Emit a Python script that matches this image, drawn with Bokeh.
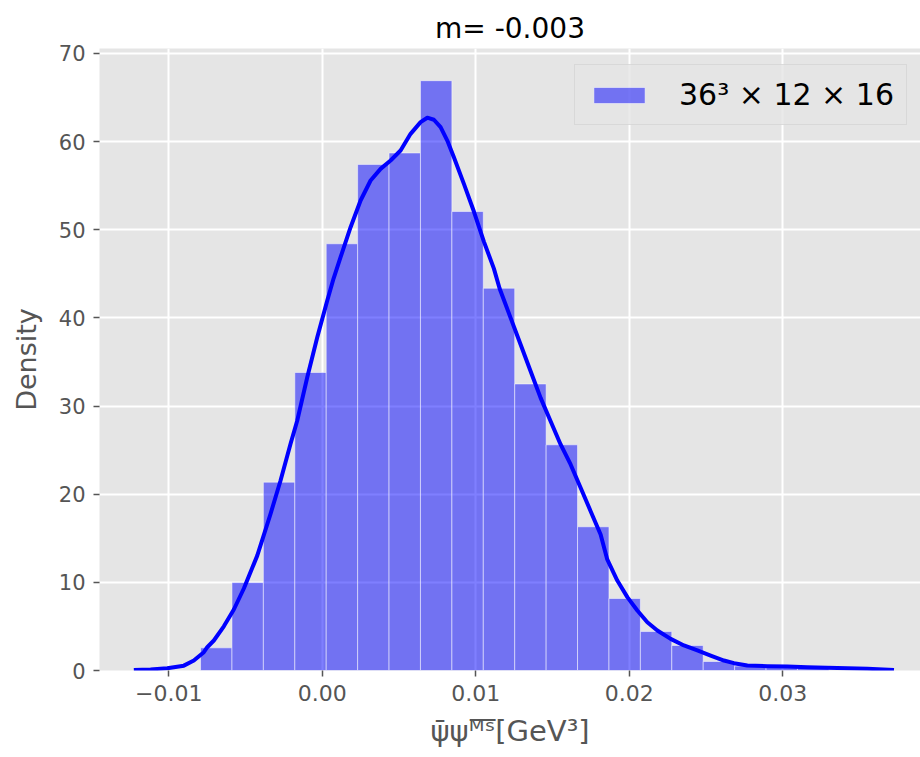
from bokeh.plotting import figure
from bokeh.models import Range1d, FixedTicker, Legend, LegendItem, ColumnDataSource
from bokeh.embed import file_html
from bokeh.resources import INLINE

# ---- data ----
bin_edges = [-0.007932, -0.005885, -0.003838, -0.001790, 0.000257, 0.002304,
             0.004351, 0.006398, 0.008446, 0.010493, 0.012540, 0.014587,
             0.016634, 0.018682, 0.020729, 0.022776, 0.024823, 0.026870,
             0.028918, 0.030965, 0.033012]
densities = [2.57, 9.98, 21.36, 33.8, 48.4, 57.4, 58.7, 66.9, 52.06, 43.36,
             32.5, 25.6, 16.3, 8.17, 4.42, 2.84, 1.02, 0.5, 0.5, 0.5]

kde_x = [-0.012279, -0.011189, -0.010102, -0.009020, -0.008369, -0.007717,
         -0.007495, -0.007065, -0.006413, -0.005762, -0.005110, -0.004236,
         -0.003370, -0.002718, -0.002066, -0.001629, -0.000978, -0.000326,
         0.000326, 0.000736, 0.001193, 0.001845, 0.002496, 0.003148,
         0.003800, 0.004452, 0.005103, 0.005755, 0.006407, 0.006843,
         0.007274, 0.007710, 0.008147, 0.008577, 0.009229, 0.009881,
         0.010532, 0.011184, 0.011556, 0.012273, 0.012924, 0.013576,
         0.014228, 0.014880, 0.015531, 0.016183, 0.016835, 0.017487,
         0.018138, 0.018570, 0.019225, 0.019879, 0.020530, 0.021182,
         0.021834, 0.022701, 0.023568, 0.024441, 0.025308, 0.026175,
         0.026826, 0.027700, 0.029003, 0.030307, 0.031611, 0.032914,
         0.034218, 0.035521, 0.037255]
kde_y = [0.05, 0.12, 0.25, 0.55, 1.13, 2.08,
         2.64, 3.40, 5.01, 6.92, 9.30, 13.03,
         17.77, 21.55, 25.71, 28.35, 33.26, 37.79,
         41.96, 44.46, 46.88, 50.28, 53.31, 55.58,
         56.90, 57.85, 58.98, 60.87, 62.20, 62.70,
         62.47, 61.63, 60.11, 58.22, 55.20, 52.06,
         48.65, 45.58, 43.33, 40.00, 36.97, 33.95,
         30.92, 28.28, 25.64, 23.37, 20.72, 18.07,
         15.43, 12.6, 10.2, 8.32, 6.80, 5.48,
         4.54, 3.59, 2.84, 2.27, 1.70, 1.13,
         0.83, 0.57, 0.49, 0.45, 0.38, 0.30,
         0.26, 0.20, 0.05]

x_ticks = [-0.01, 0.0, 0.01, 0.02, 0.03]
x_tick_labels = ["\u22120.01", "0.00", "0.01", "0.02", "0.03"]
y_ticks = [0, 10, 20, 30, 40, 50, 60, 70]

title_text = "m= -0.003"
legend_text = "36\u00b3 \u00d7 12 \u00d7 16"
y_label = "Density"
x_label = "\u03c8\u0304\u03c8\u1d39\u0305\u02e2\u0305[GeV\u00b3]"

# ---- figure ----
p = figure(width=920, height=757, output_backend="svg", toolbar_location=None,
           x_range=Range1d(-0.014516, 0.038982), y_range=Range1d(0, 70.55),
           min_border_left=99, min_border_right=0, min_border_top=48,
           min_border_bottom=87)
p.background_fill_color = "#E5E5E5"
p.border_fill_color = "white"
p.outline_line_color = None

p.title.text = title_text
p.title.align = "center"
p.title.text_font = "DejaVu Sans"
p.title.text_font_size = "28px"
p.title.text_font_style = "normal"
p.title.text_color = "black"
p.title.standoff = 8

src = ColumnDataSource(dict(left=bin_edges[:-1], right=bin_edges[1:],
                            top=densities, bottom=[0] * len(densities)))
bars = p.quad(left="left", right="right", top="top", bottom="bottom", source=src,
              fill_color="blue", fill_alpha=0.5, line_color="white",
              line_alpha=0.5, line_width=1)
p.line(kde_x, kde_y, line_color="blue", line_width=4, line_join="round")

for ax in (p.xaxis[0], p.yaxis[0]):
    ax.axis_line_color = None
    ax.major_tick_line_color = "#555555"
    ax.major_tick_line_width = 1.5
    ax.major_tick_out = 6
    ax.major_tick_in = 0
    ax.minor_tick_line_color = None
    ax.major_label_text_font = "DejaVu Sans"
    ax.major_label_text_font_size = "21px"
    ax.major_label_text_color = "#555555"
    ax.axis_label_text_font = "DejaVu Sans"
    ax.axis_label_text_font_size = "27px"
    ax.axis_label_text_color = "#555555"
    ax.axis_label_text_font_style = "normal"

p.xaxis.ticker = FixedTicker(ticks=x_ticks)
p.xaxis.major_label_overrides = {t: s for t, s in zip(x_ticks, x_tick_labels)}
p.xaxis.major_label_text_font_size = "22px"
p.xaxis.major_label_standoff = 8
p.xaxis.axis_label = x_label
p.xaxis.axis_label_text_font_size = "29px"
p.xaxis.axis_label_standoff = 10
p.yaxis.ticker = FixedTicker(ticks=y_ticks)
p.yaxis.major_label_standoff = 8
p.yaxis.axis_label = y_label
p.yaxis.axis_label_standoff = 14

p.xgrid.ticker = FixedTicker(ticks=x_ticks)
p.ygrid.ticker = FixedTicker(ticks=y_ticks)
p.grid.grid_line_color = "white"
p.grid.grid_line_width = 2

legend = Legend(items=[LegendItem(label=legend_text, renderers=[bars])],
                location=(475, 545))
legend.label_text_font = "DejaVu Sans"
legend.label_text_font_size = "30px"
legend.label_text_color = "black"
legend.glyph_width = 64
legend.glyph_height = 20
legend.label_standoff = 28
legend.padding = 12
legend.margin = 0
legend.background_fill_color = "#E5E5E5"
legend.background_fill_alpha = 0.8
legend.border_line_color = "#CCCCCC"
legend.border_line_width = 1.5
p.add_layout(legend)

open("out.html", "w").write(file_html(p, INLINE))
